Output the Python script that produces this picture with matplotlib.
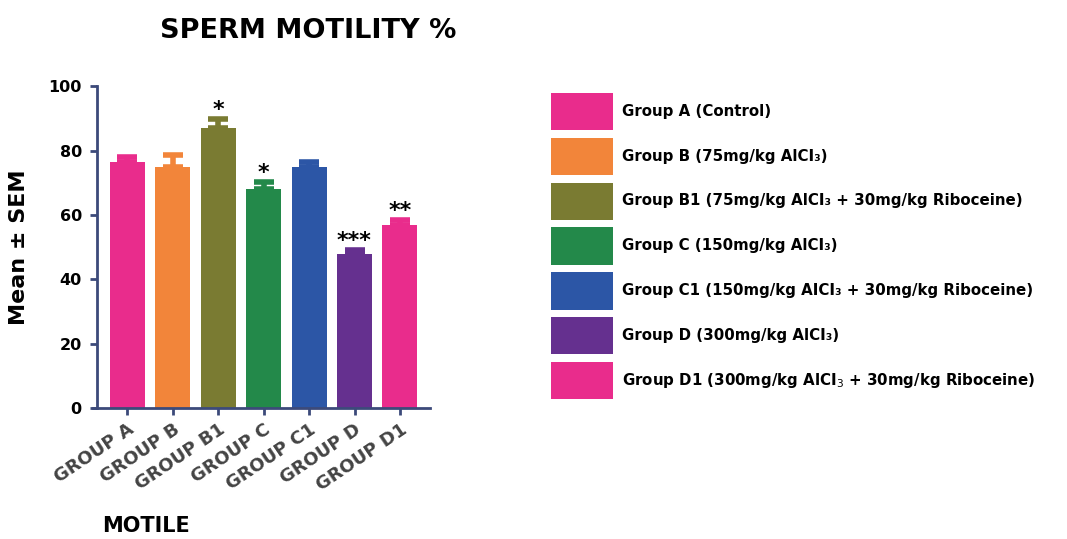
import matplotlib
matplotlib.use("Agg")
import matplotlib.pyplot as plt
from matplotlib.patches import Patch

# data
groups = ["GROUP A", "GROUP B", "GROUP B1", "GROUP C", "GROUP C1", "GROUP D", "GROUP D1"]
means = [76.5, 75, 87, 68, 75, 48, 57]
sems = [1.5, 3.5, 2.8, 2.3, 1.5, 1.0, 1.5]
stars = ["", "", "*", "*", "", "***", "**"]
colors = ["#E92C8C", "#F2853A", "#7A7B32", "#23894A", "#2C56A6", "#65308F", "#E92C8C"]
legend_labels = [
    "Group A (Control)",
    "Group B (75mg/kg AlCI\u2083)",
    "Group B1 (75mg/kg AlCI\u2083 + 30mg/kg Riboceine)",
    "Group C (150mg/kg AlCI\u2083)",
    "Group C1 (150mg/kg AICI\u2083 + 30mg/kg Riboceine)",
    "Group D (300mg/kg AlCI\u2083)",
    "Group D1 (300mg/kg AlCI$_3$ + 30mg/kg Riboceine)",
]

AXIS = "#3C4A7A"

fig = plt.figure(figsize=(10.67, 5.39), dpi=100)
ax = fig.add_axes([0.091, 0.243, 0.312, 0.597])

x = list(range(len(groups)))
ax.bar(x, means, width=0.77, color=colors, zorder=2)
# upper error bars in bar colours
for i in x:
    ax.errorbar(i, means[i], yerr=[[0], [sems[i]]], color=colors[i],
                elinewidth=4, capsize=7, capthick=4, zorder=3)
# significance stars
for i, s in enumerate(stars):
    if s:
        ax.text(i, means[i] + sems[i] + 0.9, s, ha="center", va="baseline",
                fontsize=16, fontweight="bold", color="black")

ax.set_xlim(-0.66, 6.66)
ax.set_ylim(0, 100)
ax.set_yticks([0, 20, 40, 60, 80, 100])
ax.set_xticks(x)
ax.set_xticklabels(groups, rotation=34, ha="right", rotation_mode="anchor",
                   fontsize=13, fontweight="bold", color="#444444")
for lab in ax.get_yticklabels():
    lab.set_fontweight("bold")
    lab.set_fontsize(11.5)
ax.tick_params(axis="x", length=5, width=2, color=AXIS, pad=4)
ax.tick_params(axis="y", length=5, width=2, color=AXIS, pad=6)
for side in ["top", "right"]:
    ax.spines[side].set_visible(False)
for side in ["left", "bottom"]:
    ax.spines[side].set_color(AXIS)
    ax.spines[side].set_linewidth(2)
ax.spines["bottom"].set_bounds(-0.75, 6.66)

ax.set_ylabel("Mean \u00b1 SEM", fontsize=16, fontweight="bold", labelpad=14)

fig.text(0.289, 0.943, "SPERM MOTILITY %", ha="center", va="center",
         fontsize=19.5, fontweight="bold")
fig.text(0.096, 0.006, "MOTILE", ha="left", va="bottom",
         fontsize=15, fontweight="bold")

handles = [Patch(facecolor=c, edgecolor="none") for c in colors]
fig.legend(handles, legend_labels, loc="upper left",
           bbox_to_anchor=(551 / 1067, 1 - 93 / 539), frameon=False,
           handlelength=4.1, handleheight=3.45, labelspacing=0.5,
           handletextpad=0.6, borderpad=0, borderaxespad=0,
           prop=dict(size=10.8, weight="bold"))

fig.savefig("out.png", dpi=100, facecolor="white")
